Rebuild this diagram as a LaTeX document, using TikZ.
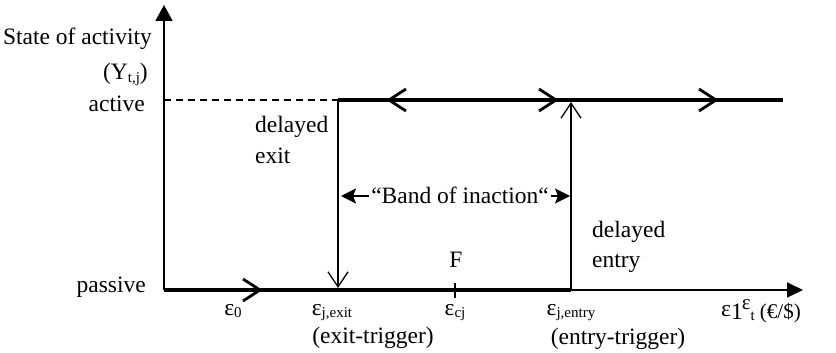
\documentclass[tikz,border=0pt]{standalone}
\usepackage{fontspec}
\setmainfont{Liberation Serif}
\usetikzlibrary{arrows.meta}
\newcommand{\mysub}[1]{\raisebox{-2pt}{\fontsize{15}{15}\selectfont #1}}
\begin{document}
\begin{tikzpicture}[x=1pt,y=-1pt,
  font=\fontsize{23.5}{28}\selectfont,
  axisline/.style={line width=1.8pt},
  thickline/.style={line width=4pt},
  thinline/.style={line width=1.3pt},
  dashline/.style={line width=1.3pt, dash pattern=on 7pt off 5pt},
  chev/.style={line width=2.8pt},
  barb/.style={thinline, -{Straight Barb[length=15pt,width=20pt]}},
  bandarr/.style={line width=1.5pt, -{Stealth[length=15pt,width=15pt,inset=3pt]}},
  lbl/.style={inner sep=0pt}]
\useasboundingbox (0,0) rectangle (836,353);
% coordinates
\coordinate (O) at (164,290);
\coordinate (Ytop) at (164,5);
\coordinate (Xend) at (803,290);
\coordinate (A0) at (164,100);
\coordinate (Aexit) at (338,100);
\coordinate (Aentry) at (571,100);
\coordinate (Aend) at (783,100);
\coordinate (Pexit) at (338,290);
\coordinate (Pentry) at (571,290);
\coordinate (Pexittip) at (338,288);
\coordinate (Aentrytip) at (571,102);
\coordinate (c1) at (260,290);
\coordinate (c2) at (389,100);
\coordinate (c3) at (556,100);
\coordinate (c4) at (716,100);
\coordinate (tickT) at (455,283);
\coordinate (tickB) at (455,298);
\coordinate (bandL) at (341,196);
\coordinate (bandR) at (570,196);
% axes
\draw[axisline, -{Triangle[length=16pt,width=17pt]}] (O) -- (Ytop);
\draw[axisline, -{Triangle[length=16pt,width=15pt]}] (O) -- (Xend);
% thick state lines
\draw[thickline] (O) -- (Pentry);
\draw[thickline] (Aexit) -- (Aend);
\draw[dashline] (A0) -- (Aexit);
% transitions
\draw[barb] (Aexit) -- (Pexittip);
\draw[barb] (Pentry) -- (Aentrytip);
% chevrons
\draw[chev] (c1) ++(-17,-11) -- (c1) -- ++(-17,11);
\draw[chev] (c2) ++(17,-11) -- (c2) -- ++(17,11);
\draw[chev] (c3) ++(-17,-11) -- (c3) -- ++(-17,11);
\draw[chev] (c4) ++(-17,-11) -- (c4) -- ++(-17,11);
% tick
\draw[line width=1.5pt] (tickT) -- (tickB);
% band of inaction
\node[lbl, anchor=base] (band) at (460,203) {“Band of inaction“};
\draw[bandarr, shorten <=2pt] (band.west |- bandL) -- (bandL);
\draw[bandarr, shorten <=2pt] (band.east |- bandR) -- (bandR);
% left labels
\node[lbl, anchor=base east] (state) at (152,45) {State of activity};
\node[lbl, anchor=base east] (ylab) at (148,80) {(Y\mysub{t,j})};
\node[lbl, anchor=base east] (active) at (145,111) {active};
\node[lbl, anchor=base east] (passive) at (146,292) {passive};
% delayed labels
\node[lbl, anchor=base west, align=left, font=\fontsize{23.5}{31}\selectfont] (dexit) at (255,163) {delayed\\exit};
\node[lbl, anchor=base west, align=left, font=\fontsize{23.5}{30}\selectfont] (dentry) at (592,267) {delayed\\entry};
% bottom labels
\node[lbl, anchor=base] (F) at (456,267) {F};
\node[lbl, anchor=base] (e0) at (233,315) {ε\mysub{0}};
\node[lbl, anchor=base] (eexit) at (332,315) {ε\mysub{j,exit}};
\node[lbl, anchor=base] (exittrig) at (373,343) {(exit-trigger)};
\node[lbl, anchor=base] (ecj) at (455,315) {ε\mysub{cj}};
\node[lbl, anchor=base] (eentry) at (571,315) {ε\mysub{j,entry}};
\node[lbl, anchor=base] (entrytrig) at (618,344) {(entry-trigger)};
\node[lbl, anchor=base] (e1) at (732,316) {ε\raisebox{-3pt}{1}};
\node[lbl, anchor=base east, font=\fontsize{21}{25}\selectfont] (et) at (801,318) {\raisebox{9pt}{ε}\mysub{t} (€/\$)};
\end{tikzpicture}
\end{document}
